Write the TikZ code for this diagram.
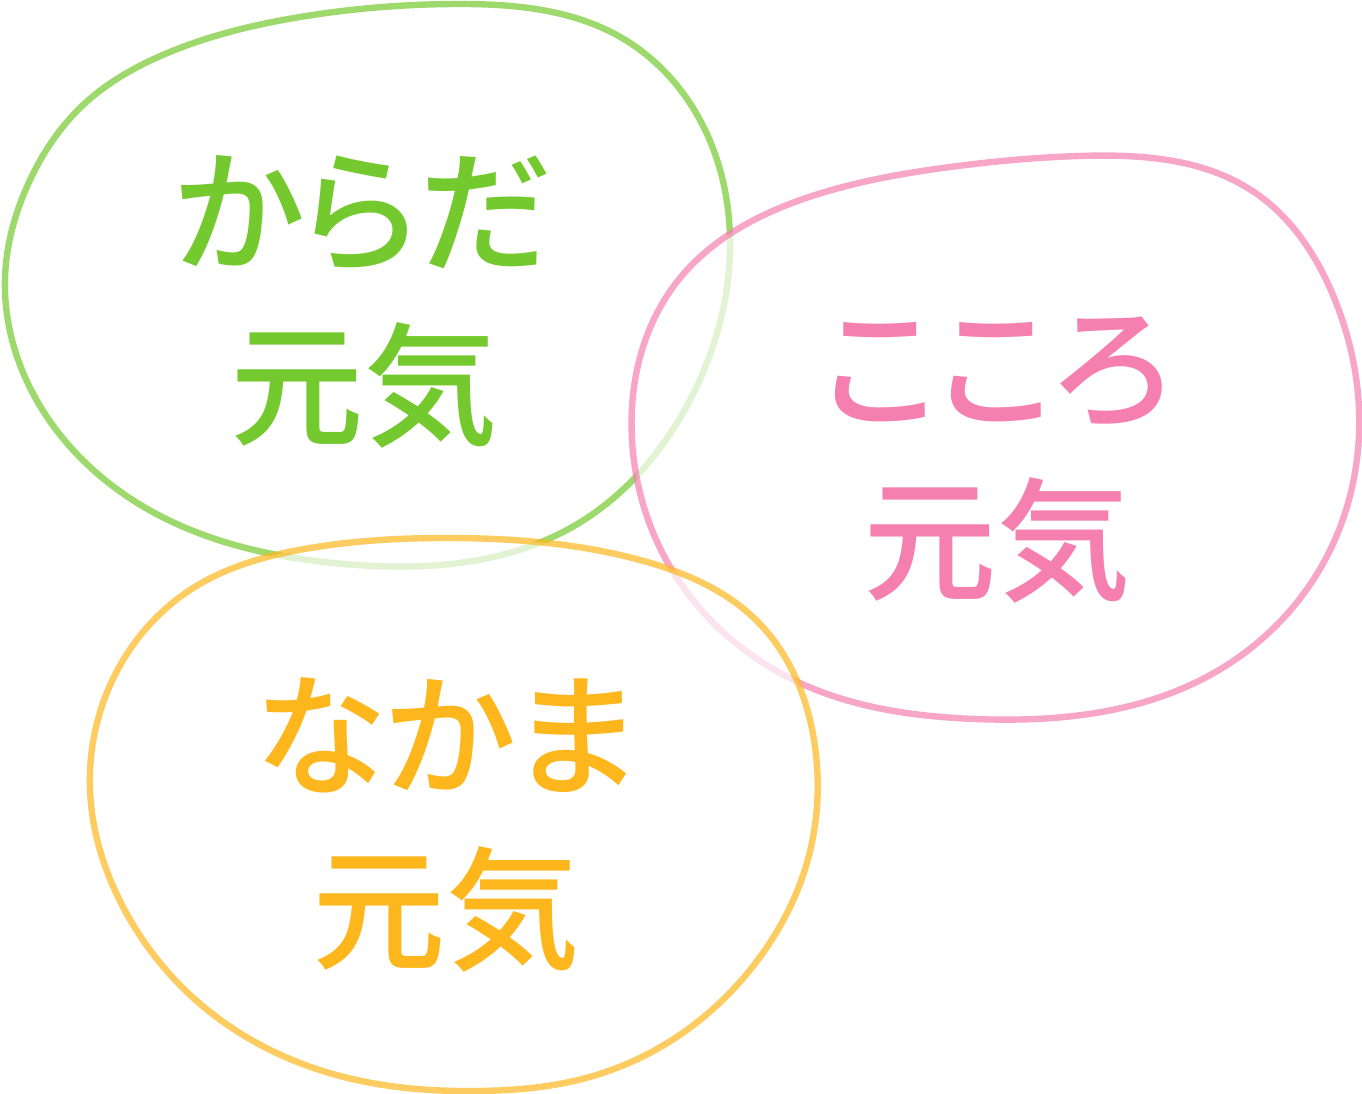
\documentclass[tikz,border=0pt]{standalone}
\usepackage{fontspec}
\newfontfamily\jp{Noto Sans CJK JP}[RawFeature=+palt, BoldFont={Noto Sans CJK JP Medium}]
\usetikzlibrary{hobby}
\definecolor{gtext}{HTML}{74C92E}
\definecolor{ptext}{HTML}{F580B0}
\definecolor{ytext}{HTML}{FDB71D}
\tikzset{
  blob/.style={line width=4.8pt, draw opacity=0.7, fill=white, fill opacity=0.7, line join=round, use Hobby shortcut, closed=true},
  label/.style={font=\jp\bfseries\fontsize{100}{130}\selectfont, align=center, inner sep=0pt}
}
\begin{document}
\begin{tikzpicture}[x=0.75pt,y=-0.75pt]
\useasboundingbox (0,0) rectangle (1362,1094);
% green blob
\path[blob, draw=gtext] (455,4) .. (622,38) .. (700,120) .. (730,250) .. (690,400)
 .. (574,526) .. (344,564) .. (144,507) .. (22,370) .. (5,278) .. (30,180) .. (82,106) .. (165,54) .. (300,17);
% pink blob
\path[blob, draw=ptext] (1079,156) .. (1254,192) .. (1335,300) .. (1359,410) .. (1325,560)
 .. (1212,674) .. (975,719) .. (800,683) .. (675,575) .. (632,440) .. (680,278) .. (809,197) .. (950,167);
% yellow blob
\path[blob, draw=ytext] (453,538) .. (640,560) .. (758,622) .. (814,740) .. (806,866)
 .. (760,957) .. (684,1032) .. (586,1078) .. (478,1091) .. (340,1076) .. (205,1008) .. (122,905) .. (90,790) .. (108,690) .. (190,590) .. (310,548);
\node[label, text=gtext] (karada) at (364,302) {からだ\\元気};
\node[label, text=ptext] (kokoro) at (997,460) {こころ\\元気};
\node[label, text=ytext] (nakama) at (446,825) {なかま\\元気};
\end{tikzpicture}
\end{document}
